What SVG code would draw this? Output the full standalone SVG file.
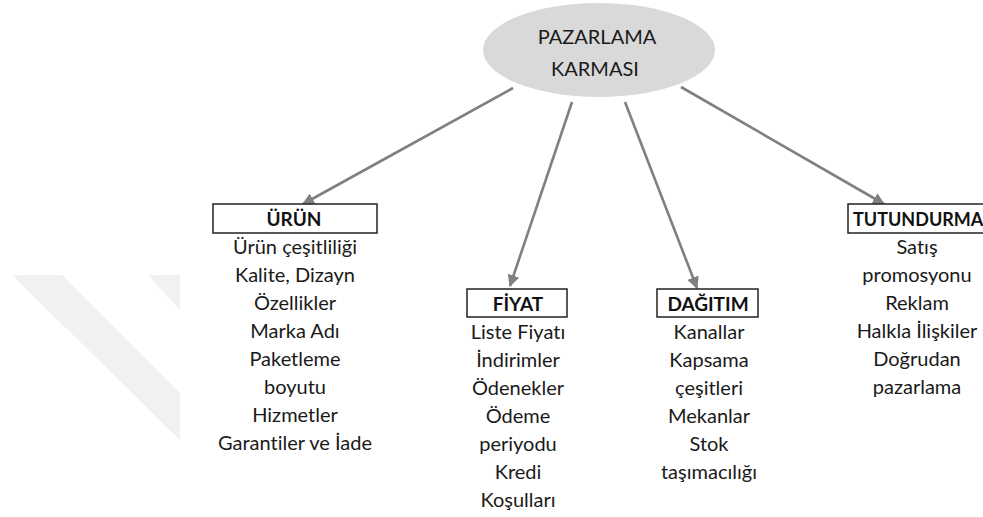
<svg xmlns="http://www.w3.org/2000/svg" width="983" height="517" viewBox="0 0 983 517">
  <style>
    .t { font-family: Lato, "Liberation Sans", sans-serif; font-size: 20px; fill: #1a1a1a; text-anchor: middle; font-variant-ligatures: none; }
    .h { font-family: Lato, "Liberation Sans", sans-serif; font-size: 19px; font-weight: bold; fill: #111; text-anchor: middle; }
    .box { fill: #fff; stroke: #222; stroke-width: 1.5; }
    .link { fill: none; stroke: #808080; stroke-width: 2.6; }
  </style>
  <defs>
    <marker id="tip" viewBox="0 0 12 12" refX="11" refY="6" markerWidth="12" markerHeight="12" markerUnits="userSpaceOnUse" orient="auto">
      <path d="M0,0 L12,6 L0,12 Z" fill="#808080"/>
    </marker>
  </defs>
  <rect width="983" height="517" fill="#fff"/>

  <!-- faint background band shapes -->
  <g id="backdrop" fill="#f1f1f1">
    <polygon points="12,275 62,275 180,393 180,440"/>
    <polygon points="148,275 180,275 180,310"/>
  </g>

  <g id="connectors">
    <line class="link" x1="513" y1="88" x2="303" y2="204" marker-end="url(#tip)"/>
    <line class="link" x1="572" y1="102" x2="510" y2="286" marker-end="url(#tip)"/>
    <line class="link" x1="625" y1="102" x2="697" y2="288" marker-end="url(#tip)"/>
    <line class="link" x1="681" y1="87" x2="884" y2="204" marker-end="url(#tip)"/>
  </g>

  <g id="root">
    <ellipse cx="599" cy="50" rx="116" ry="47" fill="#d9d9d9"/>
    <text class="t" x="597" y="44">PAZARLAMA</text>
    <text class="t" x="595" y="76">KARMASI</text>
  </g>

  <g id="urun">
    <rect class="box" x="213" y="204" width="164" height="29"/>
    <text class="h" x="294" y="226">ÜRÜN</text>
    <text class="t" x="295" y="254">Ürün çeşitliliği</text>
    <text class="t" x="295" y="282">Kalite, Dizayn</text>
    <text class="t" x="295" y="310">Özellikler</text>
    <text class="t" x="295" y="338">Marka Adı</text>
    <text class="t" x="295" y="366">Paketleme</text>
    <text class="t" x="295" y="394">boyutu</text>
    <text class="t" x="295" y="422">Hizmetler</text>
    <text class="t" x="295" y="450">Garantiler ve İade</text>
  </g>

  <g id="fiyat">
    <rect class="box" x="467" y="289" width="100" height="28"/>
    <text class="h" x="518" y="311">FİYAT</text>
    <text class="t" x="518" y="339">Liste Fiyatı</text>
    <text class="t" x="518" y="367">İndirimler</text>
    <text class="t" x="518" y="395">Ödenekler</text>
    <text class="t" x="518" y="423">Ödeme</text>
    <text class="t" x="518" y="451">periyodu</text>
    <text class="t" x="518" y="479">Kredi</text>
    <text class="t" x="518" y="507">Koşulları</text>
  </g>

  <g id="dagitim">
    <rect class="box" x="657" y="289" width="101" height="28"/>
    <text class="h" x="708" y="311">DAĞITIM</text>
    <text class="t" x="709" y="339">Kanallar</text>
    <text class="t" x="709" y="367">Kapsama</text>
    <text class="t" x="709" y="395">çeşitleri</text>
    <text class="t" x="709" y="423">Mekanlar</text>
    <text class="t" x="709" y="451">Stok</text>
    <text class="t" x="709" y="479">taşımacılığı</text>
  </g>

  <g id="tutundurma">
    <rect class="box" x="848" y="204" width="136" height="29"/>
    <text class="h" x="853" y="226" style="text-anchor:start; font-size:18px">TUTUNDURMA</text>
    <text class="t" x="917" y="254">Satış</text>
    <text class="t" x="917" y="282">promosyonu</text>
    <text class="t" x="917" y="310">Reklam</text>
    <text class="t" x="917" y="338">Halkla İlişkiler</text>
    <text class="t" x="917" y="366">Doğrudan</text>
    <text class="t" x="917" y="394">pazarlama</text>
  </g>
</svg>
